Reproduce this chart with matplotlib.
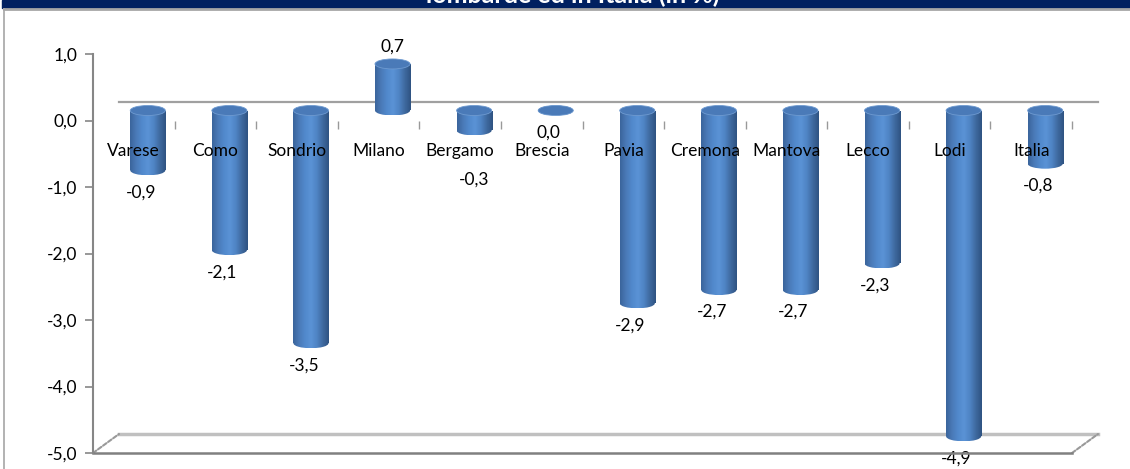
import numpy as np
import matplotlib
matplotlib.use('Agg')
from matplotlib import pyplot as plt
from matplotlib.patches import Rectangle, Ellipse, ConnectionPatch
from matplotlib.colors import LinearSegmentedColormap

provinces = ['Varese', 'Como', 'Sondrio', 'Milano', 'Bergamo', 'Brescia',
             'Pavia', 'Cremona', 'Mantova', 'Lecco', 'Lodi', 'Italia']
values = [-0.9, -2.1, -3.5, 0.7, -0.3, 0.0, -2.9, -2.7, -2.7, -2.3, -4.9, -0.8]
yticks = [1, 0, -1, -2, -3, -4, -5]
title = 'lombarde ed in Italia (in %)'

plt.rcParams['font.family'] = ['Lato', 'DejaVu Sans']

W, H = 1130, 469
fig = plt.figure(figsize=(W / 100, H / 100), dpi=100)

# title bar + chart border
fig.add_artist(Rectangle((2 / W, 1 - 8 / H), 1, 8 / H, transform=fig.transFigure,
                         color='#002060', zorder=0))
fig.add_artist(plt.Line2D([4 / W, 1], [1 - 9 / H, 1 - 9 / H], transform=fig.transFigure,
                          color='#a6a6a6', lw=2))
fig.add_artist(plt.Line2D([4 / W, 4 / W], [0, 1 - 9 / H], transform=fig.transFigure,
                          color='#a6a6a6', lw=1.2))
fig.text(573 / W, 1 - 3 / H, title, color='white', fontweight='bold', fontsize=18,
         ha='center', va='baseline')

x = np.arange(len(provinces))
xlim = (-0.5, len(provinces) - 0.5)
ylim = (-5, 1)

# main (front) axes
pos = [93 / W, 16 / H, (1072 - 93) / W, 399 / H]
ax = fig.add_axes(pos)
# back plane axes (3d depth)
axb = fig.add_axes([pos[0] + 26 / W, pos[1] + 19 / H, pos[2], pos[3]])
# bar axes (middle depth)
ax2 = fig.add_axes([pos[0] + 14 / W, pos[1] + 10 / H, pos[2], pos[3]])
axb.set_zorder(0)
ax2.set_zorder(1)
ax.set_zorder(2)
for a in (ax, axb, ax2):
    a.set_xlim(*xlim)
    a.set_ylim(*ylim)
    a.patch.set_visible(False)
axb.axis('off')
ax2.axis('off')

for s in ['top', 'right', 'bottom']:
    ax.spines[s].set_visible(False)
ax.spines['left'].set_color('#868686')
ax.spines['left'].set_linewidth(1.5)
ax.set_xticks([])
ax.set_yticks(yticks)
ax.set_yticklabels([f'{t:.1f}'.replace('.', ',') for t in yticks], fontsize=12.5)
ax.tick_params(axis='y', direction='out', length=6, width=1.2, color='#868686', pad=5)

# floor
ax.plot(xlim, [ylim[0]] * 2, color='#808080', lw=1.8, clip_on=False)
axb.plot(xlim, [ylim[0]] * 2, color='#c0c0c0', lw=2.5, clip_on=False)
axb.plot(xlim, [0, 0], color='#a0a0a0', lw=1.6, clip_on=False)
for xe in xlim:
    cp = ConnectionPatch((xe, ylim[0]), (xe, ylim[0]), coordsA=ax.transData,
                         coordsB=axb.transData, color='#999999', lw=1.5, ls=(0, (2, 1)))
    fig.add_artist(cp)

# category ticks and labels
ax.plot(x + 0.5, np.zeros(len(x)), ls='none', marker=3, markersize=6,
        color='#999999', clip_on=False)
for i, name in enumerate(provinces):
    ax.annotate(name, (i, 0), xytext=(0, -30), textcoords='offset pixels',
                ha='center', va='center', fontsize=12.5)

# cylinders
cmap = LinearSegmentedColormap.from_list(
    'cyl', ['#3b659c', '#4a7ab8', '#5189cc', '#5b93d6', '#4f84c4', '#3f6aa0', '#2f5382'])
grad = np.linspace(0, 1, 64).reshape(1, -1)
bw = 0.43
eh = 10 / 66.5
bars = ax2.bar(x, values, width=bw, color='none', edgecolor='none')
for b, v in zip(bars, values):
    xl = b.get_x()
    lo, hi = min(v, 0), max(v, 0)
    if hi - lo > 0:
        im = ax2.imshow(grad, cmap=cmap, aspect='auto', extent=(xl, xl + bw, lo, hi),
                        zorder=2, interpolation='bilinear')
        im.set_clip_path(b)
    # bottom cap
    bot = Ellipse((xl + bw / 2, lo), bw, eh, transform=ax2.transData)
    ax2.add_patch(bot)
    im2 = ax2.imshow(grad, cmap=cmap, aspect='auto',
                     extent=(xl, xl + bw, lo - eh / 2, lo + eh / 2), zorder=1.9,
                     interpolation='bilinear')
    im2.set_clip_path(bot)
    bot.set_visible(False)
    # top cap
    ax2.add_patch(Ellipse((xl + bw / 2, hi), bw, eh, facecolor='#4a7ab8',
                          edgecolor='#6e9ad0', lw=0.6, zorder=3))
ax2.set_xlim(*xlim)
ax2.set_ylim(*ylim)

# value labels (pushed below the category names when they would collide)
for i, v in enumerate(values):
    lab = f'{v:.1f}'.replace('.', ',')
    if v > 0:
        off = (0, 17)
    elif -0.6 < v < -0.05:
        off = (0, -49)
    else:
        off = (-7, -22)
    ax2.annotate(lab, (i, v), xytext=off, textcoords='offset pixels',
                 ha='center', va='center', fontsize=12.5)

fig.savefig('out.png', dpi=100)
